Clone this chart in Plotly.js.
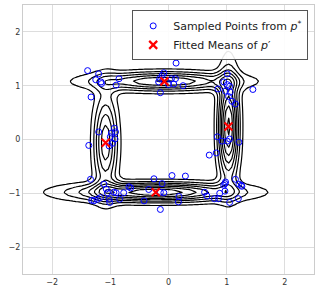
<!DOCTYPE html>
<html><head><meta charset="utf-8">
<script src="https://cdn.plot.ly/plotly-3.0.1.min.js"></script>
<style>html,body{margin:0;padding:0;background:#fff}#chart{width:319px;height:294px}</style>
</head><body><div id="chart"></div>
<script>
// Sampled points from p*
const sampleX = [-1.39,-1.20,-1.25,-1.16,-1.15,-0.85,-0.90,-1.33,
  -0.08,0.13,-0.11,0.05,0.12,0.09,0.25,-0.14,0.00,-0.17,-0.15,
  1.01,0.95,1.01,1.05,0.85,0.98,1.06,1.03,1.09,1.15,1.45,
  -1.20,-0.93,-0.91,-0.98,-1.00,-0.92,-0.96,-1.02,-1.37,
  0.84,0.92,1.01,1.05,1.21,0.70,0.82,
  -1.34,-1.11,-1.07,-1.05,-0.94,-0.90,-0.77,-0.65,-0.84,-1.01,-1.17,-1.22,-1.28,-1.32,-1.02,-0.68,
  -0.25,-0.11,0.06,-0.34,-0.08,-0.14,-0.42,-0.14,0.29,0.18,0.17,
  0.62,0.66,0.79,0.86,0.88,0.97,0.97,1.05,1.15,1.21,1.25,1.20,0.98,0.95,1.26];
const sampleY = [1.28,1.22,1.11,1.07,1.04,1.13,1.01,0.79,
  1.24,1.42,1.19,1.13,1.13,1.03,1.00,0.87,1.02,1.07,1.13,
  1.22,1.07,1.02,0.99,0.94,0.90,0.88,0.80,0.71,0.66,0.93,
  0.14,0.21,0.14,0.12,0.05,0.01,-0.07,-0.12,-0.11,
  0.05,-0.03,-0.03,0.01,-0.05,-0.29,-0.25,
  -0.74,-0.83,-0.92,-0.99,-0.98,-0.99,-0.99,-0.90,-1.11,-1.17,-1.08,-1.11,-1.14,-1.13,-1.11,-0.88,
  -0.73,-0.82,-0.67,-0.93,-0.99,-0.98,-1.14,-1.30,-0.68,-1.06,-1.16,
  -0.98,-1.05,-1.10,-1.10,-1.00,-0.96,-0.82,-1.17,-0.74,-0.83,-0.85,-1.10,-0.79,-0.85,-0.87];

// Fitted mixture p' (means, std devs, weights)
const meanX = [-1.08, -0.07, 1.03, -0.22];
const meanY = [-0.06, 1.08, 0.24, -0.98];
const sigX  = [0.14, 0.85, 0.12, 0.95];
const sigY  = [0.62, 0.12, 0.68, 0.12];
const weight = [0.20, 0.25, 0.27, 0.36];
const levelStep = 0.064;

const N = 100;
const gx = [], gy = [];
for (let i = 0; i < N; i++) { gx.push(-2.5 + 5 * i / (N - 1)); gy.push(-2.5 + 5 * i / (N - 1)); }
const z = gy.map(y => gx.map(x => {
  let s = 0;
  for (let k = 0; k < meanX.length; k++) {
    const dx = (x - meanX[k]) / sigX[k], dy = (y - meanY[k]) / sigY[k];
    s += weight[k] / (2 * Math.PI * sigX[k] * sigY[k]) * Math.exp(-0.5 * (dx * dx + dy * dy));
  }
  return s;
}));

const traces = [
  {type: 'contour', x: gx, y: gy, z: z, showscale: false, showlegend: false,
   colorscale: [[0, '#000'], [1, '#000']], hoverinfo: 'skip',
   contours: {coloring: 'lines', start: levelStep, end: levelStep * 12, size: levelStep},
   line: {width: 1.2, smoothing: 0.6}},
  {type: 'scatter', mode: 'markers', x: sampleX, y: sampleY,
   name: 'Sampled Points from <i>p</i><sup>*</sup>',
   marker: {symbol: 'circle-open', size: 6, color: '#0000ff', line: {width: 1, color: '#0000ff'}}},
  {type: 'scatter', mode: 'markers', x: meanX, y: meanY,
   name: 'Fitted Means of <i>p</i>′',
   marker: {symbol: 'x-thin', size: 8, color: '#ff0000', line: {width: 2.2, color: '#ff0000'}}}
];

const axisCommon = {range: [-2.5, 2.5], tickvals: [-2, -1, 0, 1, 2], ticktext: ['−2','−1','0','1','2'],
  showgrid: true, gridcolor: '#dddddd', gridwidth: 1, zeroline: false,
  showline: true, mirror: true, linecolor: '#cccccc', linewidth: 1, ticks: '',
  tickfont: {family: 'DejaVu Sans', size: 8, color: '#333'}};

const layout = {
  width: 319, height: 294,
  margin: {l: 23, r: 5, t: 5, b: 20},
  paper_bgcolor: '#fff', plot_bgcolor: '#fff',
  xaxis: Object.assign({}, axisCommon),
  yaxis: Object.assign({}, axisCommon),
  showlegend: true,
  legend: {x: 0.98, y: 0.98, xanchor: 'right', yanchor: 'top',
    bgcolor: 'rgba(255,255,255,0.9)', bordercolor: '#555', borderwidth: 1,
    tracegroupgap: 0, itemwidth: 30,
    font: {family: 'DejaVu Sans', size: 11, color: '#222'}}
};
Plotly.newPlot('chart', traces, layout, {staticPlot: true, displayModeBar: false});
</script></body></html>
